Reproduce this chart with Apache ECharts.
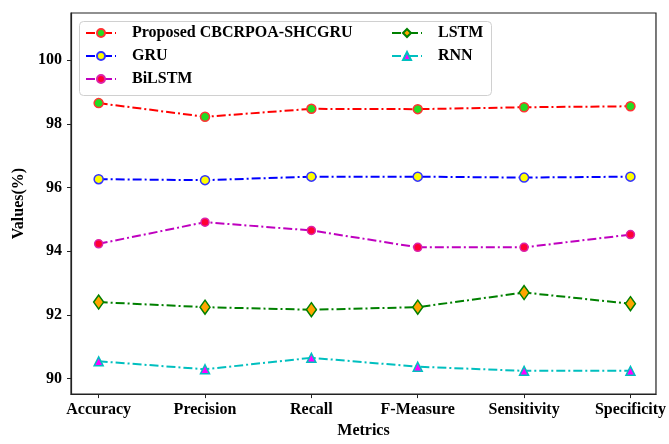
<!DOCTYPE html>
<html>
<head>
<meta charset="utf-8">
<script src="https://cdn.jsdelivr.net/npm/echarts@6/dist/echarts.min.js"></script>
<style>html,body{margin:0;padding:0;background:#fff}#c{width:669px;height:444px}</style>
</head>
<body>
<div id="c"></div>
<script>
var categories = ['Accuracy', 'Precision', 'Recall', 'F-Measure', 'Sensitivity', 'Specificity'];
var proposed = [98.65, 98.22, 98.47, 98.46, 98.52, 98.55];
var gru = [96.26, 96.23, 96.34, 96.34, 96.31, 96.34];
var bilstm = [94.23, 94.91, 94.65, 94.12, 94.12, 94.52];
var lstm = [92.40, 92.24, 92.16, 92.24, 92.70, 92.35];
var rnn = [90.54, 90.29, 90.65, 90.37, 90.24, 90.24];
var yTicks = [90, 92, 94, 96, 98, 100];

var FONT = '"Liberation Serif", "Times New Roman", serif';
var dash = [9, 3, 2, 3];
function pts(arr) { return arr.map(function (v, i) { return [i, v]; }); }
function mk(name, data, color, symbol, size, fill, border) {
  return {
    name: name, type: 'line', data: pts(data), symbol: symbol, symbolSize: size,
    lineStyle: { color: color, width: 2, type: dash },
    itemStyle: { color: fill, borderColor: border, borderWidth: 1.5 },
    color: color
  };
}
var chart = echarts.init(document.getElementById('c'));
var legendText = { fontFamily: FONT, fontWeight: 'bold', fontSize: 16, color: '#000', padding: [0, 0, 0, 11] };
chart.setOption({
  animation: false,
  backgroundColor: '#fff',
  grid: { left: 71, right: 9, top: 13, bottom: 41, show: true, borderColor: '#222', borderWidth: 1.2, backgroundColor: 'transparent' },
  graphic: [{
    type: 'rect', left: 79, top: 21, z: 5,
    shape: { width: 412, height: 74, r: 4 },
    style: { fill: 'rgba(255,255,255,0.85)', stroke: '#d0d0d0', lineWidth: 1 }
  }],
  legend: [{
    left: 85, top: 25, orient: 'vertical', padding: 0, itemGap: 7,
    itemWidth: 30, itemHeight: 10, z: 10,
    data: ['Proposed CBCRPOA-SHCGRU', 'GRU', 'BiLSTM'],
    textStyle: legendText
  }, {
    left: 391, top: 25, orient: 'vertical', padding: 0, itemGap: 7,
    itemWidth: 30, itemHeight: 10, z: 10,
    data: ['LSTM', 'RNN'],
    textStyle: legendText
  }],
  xAxis: {
    type: 'value', min: -0.26, max: 5.24,
    name: 'Metrics', nameLocation: 'middle', nameGap: 24,
    nameTextStyle: { fontFamily: FONT, fontWeight: 'bold', fontSize: 16, color: '#000' },
    axisLine: { show: true, onZero: false, lineStyle: { color: '#222', width: 1.2 } },
    axisTick: { show: true, length: 4, customValues: [0, 1, 2, 3, 4, 5], lineStyle: { color: '#222' } },
    axisLabel: {
      customValues: [0, 1, 2, 3, 4, 5], margin: 8,
      fontFamily: FONT, fontWeight: 'bold', fontSize: 16, color: '#000',
      formatter: function (v) { return categories[Math.round(v)]; }
    },
    splitLine: { show: false }
  },
  yAxis: {
    type: 'value', min: 89.51, max: 101.48,
    name: 'Values(%)', nameLocation: 'middle', nameGap: 36,
    nameTextStyle: { fontFamily: FONT, fontWeight: 'bold', fontSize: 16, color: '#000' },
    axisLine: { show: true, onZero: false, lineStyle: { color: '#222', width: 1.2 } },
    axisTick: { show: true, length: 4, customValues: yTicks, lineStyle: { color: '#222' } },
    axisLabel: {
      customValues: yTicks, margin: 9,
      fontFamily: FONT, fontWeight: 'bold', fontSize: 16, color: '#000'
    },
    splitLine: { show: false }
  },
  series: [
    mk('Proposed CBCRPOA-SHCGRU', proposed, '#ff0000', 'circle', 9, '#22dd22', '#ff3333'),
    mk('GRU', gru, '#0000ff', 'circle', 9, '#ffff00', '#3333ff'),
    mk('BiLSTM', bilstm, '#bf00bf', 'circle', 8, '#ff0033', '#dd22aa'),
    mk('LSTM', lstm, '#008000', 'diamond', [10, 14], '#ffa500', '#008000'),
    mk('RNN', rnn, '#00bfbf', 'triangle', 9, '#ff00ff', '#00bfbf')
  ]
});
</script>
</body>
</html>
